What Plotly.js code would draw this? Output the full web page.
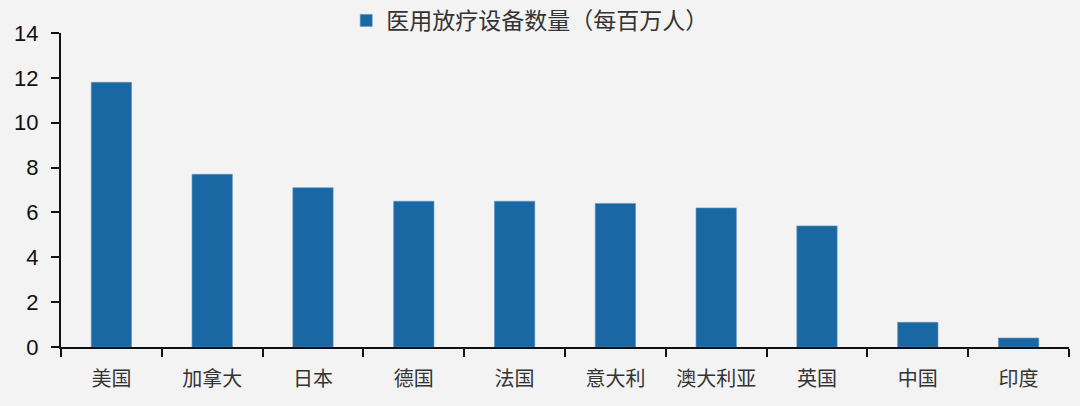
<!DOCTYPE html>
<html>
<head>
<meta charset="utf-8">
<script src="https://cdn.plot.ly/plotly-3.0.1.min.js"></script>
<style>html,body{margin:0;padding:0;background:#f3f3f3;}#chart{width:1080px;height:406px;}</style>
</head>
<body>
<div id="chart"></div>
<script>
var categories = ["美国", "加拿大", "日本", "德国", "法国", "意大利", "澳大利亚", "英国", "中国", "印度"];
var values = [11.8, 7.7, 7.1, 6.5, 6.5, 6.4, 6.2, 5.4, 1.1, 0.4];
var seriesName = "医用放疗设备数量（每百万人）";
var yTicks = [0, 2, 4, 6, 8, 10, 12, 14];

var trace = {
  type: "bar",
  x: categories,
  y: values,
  name: seriesName,
  marker: {color: "#1a68a3", line: {color: "#5b93c2", width: 0.6}},
  width: 0.4,
  showlegend: true
};

var layout = {
  width: 1080, height: 406,
  paper_bgcolor: "#f3f3f3", plot_bgcolor: "#f3f3f3",
  margin: {l: 61, r: 11, t: 33, b: 59, autoexpand: false},
  showlegend: true,
  legend: {
    orientation: "h", x: 0.465, xanchor: "center", y: 1.04, yanchor: "middle",
    font: {family: "Noto Sans CJK SC, sans-serif", size: 23, color: "#333"},
    bgcolor: "rgba(0,0,0,0)", itemwidth: 30
  },
  xaxis: {
    type: "category",
    showline: true, linecolor: "#111", linewidth: 2,
    ticks: "outside", tickson: "boundaries", ticklen: 8, tickwidth: 2, tickcolor: "#111",
    tickfont: {family: "Noto Sans CJK SC, serif", size: 20, color: "#333"},
    ticklabelstandoff: 13,
    showgrid: false, zeroline: false, fixedrange: true
  },
  yaxis: {
    range: [0, 14], tickvals: yTicks, ticktext: yTicks.map(String),
    showline: true, linecolor: "#111", linewidth: 2,
    ticks: "outside", ticklen: 8, tickwidth: 2, tickcolor: "#111",
    tickfont: {family: "Liberation Sans, Arial, sans-serif", size: 22, color: "#111"},
    ticklabelstandoff: 8,
    showgrid: false, zeroline: false, fixedrange: true
  },
  bargap: 0.6
};

Plotly.newPlot("chart", [trace], layout, {displayModeBar: false, staticPlot: true});
</script>
</body>
</html>
